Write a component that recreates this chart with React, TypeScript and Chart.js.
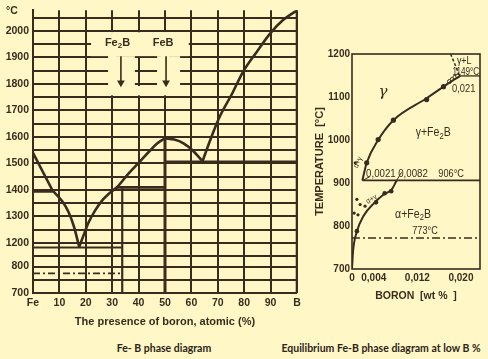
import React, { useEffect, useRef } from 'react';
import { Chart, registerables } from 'chart.js';

Chart.register(...registerables);

const BG = '#FFF8C6';
const INK = '#3A2B1D';
const SANS = "'Liberation Sans', Arial, Helvetica, sans-serif";
const CAPTION = "Lato, 'Open Sans', 'Liberation Sans', sans-serif";
const SERIF = "'DejaVu Serif', 'Liberation Serif', serif";

// ================= Left diagram: Fe–B, atomic % boron =================
// Below the axis break the temperatures are drawn shifted up by BREAK_SHIFT.
const BREAK_SHIFT = 311;
const leftXTicks = [0, 10, 20, 30, 40, 50, 60, 70, 80, 90, 100];
const leftXLabels = ['Fe', '10', '20', '30', '40', '50', '60', '70', '80', '90', 'B'];
const leftUpperGrid = [1150, 1200, 1250, 1300, 1350, 1400, 1450, 1500, 1550, 1600, 1650, 1700, 1750, 1800, 1850, 1900, 1950, 2000, 2050];
const leftLowerGrid = [700, 750, 800];
const leftYLabels = [700, 800, 1200, 1300, 1400, 1500, 1600, 1700, 1800, 1900, 2000];
const LEFT_Y_MIN = 1011; // = 700 shown below the break
const LEFT_Y_MAX = 2078;

const liqFeDelta = [[0, 1540], [7.5, 1396]];
const liqFeEut = [[7.5, 1396], [11, 1358], [13.5, 1316], [15.5, 1262], [17.5, 1185]];
const liqEutFeB = [[17.5, 1185], [19.5, 1238], [21, 1276], [23.5, 1322], [26, 1358], [29, 1388], [32, 1412], [36, 1460], [40, 1502], [44, 1545], [47, 1575], [50, 1595]];
const liqFeBEut = [[50, 1595], [53.5, 1590], [57, 1576], [60.6, 1548], [64.2, 1508]];
const liqEutB = [[64.2, 1508], [67.5, 1598], [70.8, 1678], [75.4, 1763], [79.5, 1845], [84.8, 1922], [89.8, 1990], [94.7, 2041], [100, 2078]];
const deltaLine = [[0, 1393], [7.5, 1393]];
const eutecticLine = [[0, 1183], [33.8, 1183]];
const peritecticLine = [[31.5, 1410], [50, 1410]];
const fe2bLine = [[33.8, 1410], [33.8, 1011]];
const febLine = [[50, 1595], [50, 1011]];
const eutectic2Line = [[50, 1505], [100, 1505]];
const boronLine = [[100, 2078], [100, 1011]];
const lowerDashLine = [[0, 1085], [33.8, 1085]]; // ≈774 °C below the break
const fe2bArrow = [[33.3, 1905], [33.3, 1805]];
const febArrow = [[50.4, 1905], [50.4, 1805]];
const arrowHeads = [[33.3, 1805], [50.4, 1805]];

// grid gaps around the Fe2B / FeB markers: [x0, x1, y0, y1]
const leftGridGaps = [
  [22, 59, 1905, 1995],
  [28.5, 38.6, 1790, 1905],
  [47, 55.7, 1790, 1905],
  [28.5, 31.5, 1757, 1995],
  [48.5, 51.5, 1757, 1995],
  [39, 41, 1757, 1792],
];

// ================= Right diagram: low B wt % =================
const rightXTicks = [0, 0.004, 0.012, 0.02];
const rightYTicks = [700, 800, 900, 1000, 1100, 1200];
const gammaCurve = [[0.0019, 906], [0.0027, 947], [0.0048, 1000], [0.0076, 1046], [0.0137, 1097], [0.0168, 1124], [0.0185, 1139], [0.0199, 1149]];
const alphaCurve = [[0, 700], [0.0002, 742], [0.0009, 787], [0.0021, 823], [0.0042, 855], [0.0057, 872], [0.0073, 885], [0.0082, 906]];
const gammaDots = [[0.0027, 947], [0.0048, 1001], [0.0076, 1046], [0.0137, 1094], [0.0168, 1124]];
const gammaOpenDots = [[0.0179, 1136], [0.0184, 1141], [0.0189, 1146], [0.0194, 1149]];
const alphaDots = [[0.0009, 788], [0.0044, 855], [0.006, 876], [0.0072, 881]];
const twoPhaseDots = [[0.0009, 862], [0.0015, 850], [0.0024, 846], [0.0004, 830], [0.0011, 826], [0.0006, 947]];
const liquidusLowB = [[0.0181, 1200], [0.0192, 1167], [0.0197, 1149]];
const line1149 = [[0.0197, 1149], [0.0235, 1149]];
const line906 = [[0.0019, 906], [0.0235, 906]];
const line773 = [[0, 772], [0.0235, 772]];
const leader0021 = [[0.0033, 915], [0.0021, 907]];
const leader0082 = [[0.0091, 925], [0.0079, 900]];

type Lbl = { text: string; x: number; y: number; size: number; family?: string; weight?: string; style?: string; align?: 'left' | 'center' | 'right'; base?: CanvasTextBaseline; rot?: number; sx?: number };

const leftLabels: Lbl[] = [
  { text: 'Fe_2B', x: 32, y: 1956, size: 11, weight: 'bold' },
  { text: 'FeB', x: 49.3, y: 1956, size: 11, weight: 'bold' },
];

const rightLabels: Lbl[] = [
  { text: 'γ', x: 0.0057, y: 1112, size: 15, family: SERIF, style: 'italic' },
  { text: 'γ+Fe_2B', x: 0.0149, y: 1017, size: 12, sx: 0.88 },
  { text: 'α+Fe_2B', x: 0.0112, y: 827, size: 12, sx: 0.88 },
  { text: '906°C', x: 0.0182, y: 908, size: 11.5, base: 'bottom', sx: 0.8 },
  { text: '773°C', x: 0.0134, y: 775, size: 11.5, base: 'bottom', sx: 0.8 },
  { text: '0,0021', x: 0.0053, y: 921, size: 11, sx: 0.88 },
  { text: '0,0082', x: 0.0112, y: 921, size: 11, sx: 0.88 },
  { text: '1149°C', x: 0.0209, y: 1157, size: 10.5, sx: 0.78 },
  { text: '0,021', x: 0.0205, y: 1118, size: 11, sx: 0.85 },
  { text: 'γ+L', x: 0.0206, y: 1184, size: 10.5, sx: 0.85 },
  { text: 'α+γ', x: 0.0011, y: 948, size: 8, rot: -65, sx: 0.85 },
  { text: 'α+γ', x: 0.0036, y: 862, size: 8, rot: -30, sx: 0.85 },
];

const pts = (a: number[][]) => a.map(([x, y]) => ({ x, y }));

function drawRich(ctx: CanvasRenderingContext2D, l: Lbl, px: number, py: number) {
  const fam = l.family || SANS;
  const w = l.weight || 'normal';
  const st = l.style || 'normal';
  const segs: { t: string; sub: boolean }[] = [];
  let buf = '';
  const s = l.text;
  for (let i = 0; i < s.length; i++) {
    if (s[i] === '_' && i + 1 < s.length) {
      if (buf) segs.push({ t: buf, sub: false });
      buf = '';
      segs.push({ t: s[i + 1], sub: true });
      i++;
      continue;
    }
    buf += s[i];
  }
  if (buf) segs.push({ t: buf, sub: false });
  const fontFor = (sub: boolean) => `${st} ${w} ${sub ? l.size * 0.72 : l.size}px ${fam}`;
  let total = 0;
  const widths = segs.map((sg) => {
    ctx.font = fontFor(sg.sub);
    const m = ctx.measureText(sg.t).width;
    total += m;
    return m;
  });
  ctx.save();
  ctx.translate(px, py);
  if (l.rot) ctx.rotate((l.rot * Math.PI) / 180);
  if (l.sx) ctx.scale(l.sx, 1);
  ctx.fillStyle = INK;
  ctx.textBaseline = l.base || 'middle';
  ctx.textAlign = 'left';
  let x0 = l.align === 'left' ? 0 : l.align === 'right' ? -total : -total / 2;
  segs.forEach((sg, k) => {
    ctx.font = fontFor(sg.sub);
    ctx.fillText(sg.t, x0, sg.sub ? l.size * 0.3 : 0);
    x0 += widths[k];
  });
  ctx.restore();
}

const textPlugin = (labels: Lbl[]) => ({
  id: 'richText',
  afterDatasetsDraw(chart: any) {
    const { ctx, scales } = chart;
    labels.forEach((l) => drawRich(ctx, l, scales.x.getPixelForValue(l.x), scales.y.getPixelForValue(l.y)));
  },
});

const gapPlugin = (gaps: number[][]) => ({
  id: 'gridGaps',
  beforeDatasetsDraw(chart: any) {
    const { ctx, scales } = chart;
    ctx.save();
    ctx.fillStyle = BG;
    gaps.forEach(([x0, x1, y0, y1]) => {
      const a = scales.x.getPixelForValue(x0);
      const b = scales.x.getPixelForValue(x1);
      const c = scales.y.getPixelForValue(y1);
      const d = scales.y.getPixelForValue(y0);
      ctx.fillRect(a, c, b - a, d - c);
    });
    ctx.restore();
  },
});

const framePlugin = {
  id: 'frame',
  afterDatasetsDraw(chart: any) {
    const { ctx, chartArea } = chart;
    ctx.save();
    ctx.strokeStyle = INK;
    ctx.lineWidth = 1.6;
    ctx.strokeRect(chartArea.left, chartArea.top, chartArea.right - chartArea.left, chartArea.bottom - chartArea.top);
    ctx.restore();
  },
};

const line = (data: number[][], width: number, extra: any = {}) => ({
  data: pts(data),
  showLine: true,
  borderColor: INK,
  backgroundColor: INK,
  borderWidth: width,
  pointRadius: 0,
  pointHoverRadius: 0,
  fill: false,
  ...extra,
});

const dots = (data: number[][], extra: any = {}) => ({
  data: pts(data),
  showLine: false,
  pointRadius: 2.3,
  pointBackgroundColor: INK,
  pointBorderColor: INK,
  pointBorderWidth: 0,
  ...extra,
});

function makeLeft(canvas: HTMLCanvasElement) {
  const tickFont = { family: SANS, size: 10.5, weight: 'bold' as const };
  return new Chart(canvas, {
    type: 'scatter',
    data: {
      datasets: [
        line(liqFeDelta, 2.6),
        line(liqFeEut, 2.6, { cubicInterpolationMode: 'monotone' }),
        line(liqEutFeB, 2.6, { cubicInterpolationMode: 'monotone' }),
        line(liqFeBEut, 2.6, { cubicInterpolationMode: 'monotone' }),
        line(liqEutB, 2.6, { cubicInterpolationMode: 'monotone' }),
        line(deltaLine, 2),
        line(eutecticLine, 2),
        line(peritecticLine, 2.8),
        line(fe2bLine, 2.2),
        line(febLine, 3),
        line(eutectic2Line, 3),
        line(boronLine, 2.6),
        line(lowerDashLine, 1.6, { borderDash: [7, 3, 2, 3] }),
        line(fe2bArrow, 1.6),
        line(febArrow, 1.6),
        dots(arrowHeads, { pointStyle: 'triangle', rotation: 180, pointRadius: 4.5 }),
      ] as any,
    },
    options: {
      animation: false,
      responsive: false,
      devicePixelRatio: 1,
      events: [],
      layout: { padding: { left: 0, right: 13, top: 5, bottom: 0 } },
      plugins: { legend: { display: false }, tooltip: { enabled: false } },
      scales: {
        x: {
          type: 'linear',
          min: 0,
          max: 100,
          afterBuildTicks: (s: any) => {
            s.ticks = leftXTicks.map((v) => ({ value: v }));
          },
          afterFit: (s: any) => {
            s.height = 47;
          },
          grid: { color: INK, lineWidth: 2, drawTicks: false },
          border: { display: false },
          ticks: {
            autoSkip: false,
            maxRotation: 0,
            padding: 4,
            color: INK,
            font: tickFont,
            callback: (v: any) => leftXLabels[leftXTicks.indexOf(Number(v))] ?? '',
          },
          title: {
            display: true,
            text: 'The presence of boron, atomic (%)',
            color: INK,
            font: { family: SANS, size: 11, weight: 'bold' },
            padding: { top: 0, bottom: 11 },
          },
        },
        y: {
          type: 'linear',
          min: LEFT_Y_MIN,
          max: LEFT_Y_MAX,
          afterBuildTicks: (s: any) => {
            s.ticks = [...leftLowerGrid.map((v) => v + BREAK_SHIFT), ...leftUpperGrid].map((v) => ({ value: v }));
          },
          afterFit: (s: any) => {
            s.width = 33;
          },
          grid: { color: INK, lineWidth: 2, drawTicks: false },
          border: { display: true, color: INK, width: 2 },
          ticks: {
            autoSkip: false,
            padding: 4,
            color: INK,
            font: tickFont,
            callback: (v: any) => {
              const val = Number(v);
              const disp = val < 1130 ? val - BREAK_SHIFT : val;
              return leftYLabels.includes(disp) ? String(disp) : '';
            },
          },
        },
      },
    } as any,
    plugins: [gapPlugin(leftGridGaps), textPlugin(leftLabels)],
  });
}

function makeRight(canvas: HTMLCanvasElement) {
  const tickFont = { family: SANS, size: 10, weight: 'bold' as const };
  return new Chart(canvas, {
    type: 'scatter',
    data: {
      datasets: [
        line(gammaCurve, 2, { cubicInterpolationMode: 'monotone' }),
        line(alphaCurve, 2, { cubicInterpolationMode: 'monotone' }),
        line(liquidusLowB, 1.5, { borderDash: [3, 2] }),
        line(line1149, 1.3),
        line(line906, 1.8),
        line(line773, 1.6, { borderDash: [8, 3, 2, 3] }),
        line(leader0021, 1),
        line(leader0082, 1),
        dots(gammaDots, { pointRadius: 2.6 }),
        dots(gammaOpenDots, { pointRadius: 2, pointBackgroundColor: BG, pointBorderWidth: 1 }),
        dots(alphaDots, { pointRadius: 2.3 }),
        dots(twoPhaseDots, { pointRadius: 1.6 }),
      ] as any,
    },
    options: {
      animation: false,
      responsive: false,
      devicePixelRatio: 1,
      events: [],
      layout: { padding: { left: 0, right: 8, top: 54, bottom: 0 } },
      plugins: { legend: { display: false }, tooltip: { enabled: false } },
      scales: {
        x: {
          type: 'linear',
          min: 0,
          max: 0.0235,
          afterBuildTicks: (s: any) => {
            s.ticks = rightXTicks.map((v) => ({ value: v }));
          },
          afterFit: (s: any) => {
            s.height = 36;
          },
          grid: { display: false, drawTicks: false },
          border: { display: false },
          ticks: {
            autoSkip: false,
            maxRotation: 0,
            padding: 3,
            color: INK,
            font: tickFont,
            callback: (v: any) => (Number(v) === 0 ? '0' : Number(v).toFixed(3).replace('.', ',')),
          },
          title: {
            display: true,
            text: 'BORON  [wt %  ]',
            color: INK,
            font: { family: SANS, size: 10.5, weight: 'bold' },
            padding: { top: 0, bottom: 3 },
          },
        },
        y: {
          type: 'linear',
          min: 700,
          max: 1200,
          afterBuildTicks: (s: any) => {
            s.ticks = rightYTicks.map((v) => ({ value: v }));
          },
          afterFit: (s: any) => {
            s.width = 52;
          },
          grid: { display: false, drawTicks: false },
          border: { display: false },
          ticks: { autoSkip: false, padding: 2, color: INK, font: tickFont, callback: (v: any) => String(v) },
          title: {
            display: true,
            text: 'TEMPERATURE  [°C]',
            color: INK,
            font: { family: SANS, size: 11, weight: 'bold' },
            padding: { top: 13, bottom: 0 },
          },
        },
      },
    } as any,
    plugins: [framePlugin, textPlugin(rightLabels)],
  });
}

export default function App() {
  const leftRef = useRef<HTMLCanvasElement>(null);
  const rightRef = useRef<HTMLCanvasElement>(null);
  useEffect(() => {
    const prev = document.body.style.margin;
    document.body.style.margin = '0';
    document.body.style.background = BG;
    const a = makeLeft(leftRef.current!);
    const b = makeRight(rightRef.current!);
    return () => {
      a.destroy();
      b.destroy();
      document.body.style.margin = prev;
    };
  }, []);
  const caption: React.CSSProperties = {
    position: 'absolute',
    top: 341,
    textAlign: 'center',
    fontFamily: CAPTION,
    fontWeight: 'bold',
    fontSize: 10.5,
    lineHeight: '14px',
    whiteSpace: 'nowrap',
    color: '#2E2418',
  };
  return (
    <div style={{ position: 'fixed', left: 0, top: 0, width: 488, height: 359, background: BG, overflow: 'hidden', color: INK }}>
      <canvas ref={leftRef} width={310} height={340} style={{ position: 'absolute', left: 0, top: 0, width: 310, height: 340 }} />
      <canvas ref={rightRef} width={188} height={305} style={{ position: 'absolute', left: 300, top: 0, width: 188, height: 305 }} />
      <span style={{ position: 'absolute', left: 6, top: 3, fontFamily: SANS, fontWeight: 'bold', fontSize: 10.5, lineHeight: '14px' }}>°C</span>
      <div style={{ ...caption, left: 64, width: 200 }}>Fe- B phase diagram</div>
      <div style={{ ...caption, left: 261, width: 240 }}>Equilibrium Fe-B phase diagram at low B %</div>
    </div>
  );
}
